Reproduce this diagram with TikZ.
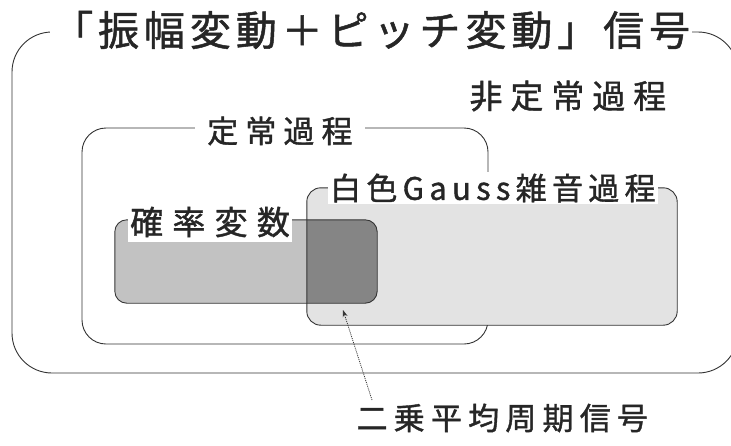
\documentclass[tikz,border=0pt]{standalone}
\usepackage{fontspec}
\newfontfamily\jp[FakeBold=1.2]{Noto Sans CJK JP}
\usetikzlibrary{arrows.meta}
\tikzset{
  frame/.style={draw=black!80, line width=0.9pt},
  lbl/.style={inner sep=2pt, fill=white, text=black!85},
  jpfont/.style 2 args={font={\jp\fontsize{#1}{#1}\selectfont\addfontfeature{LetterSpace=#2}}}
}
\begin{document}
\begin{tikzpicture}[x=1pt,y=-1pt]
\useasboundingbox (0,0) rectangle (731,445);
\clip (0,0) rectangle (731,445);
% outer box
\node[frame, rounded corners=40pt, minimum width=726pt, minimum height=341pt, inner sep=0pt] (outer) at (375,202.5) {};
% stationary box
\node[frame, rounded corners=24pt, minimum width=406pt, minimum height=216pt, inner sep=0pt] (stat) at (285,236) {};
% gauss box fill
\node[fill=black!11, rounded corners=14pt, minimum width=370pt, minimum height=137pt, inner sep=0pt] (gauss) at (492,256.5) {};
% random variable fill
\node[fill=black!24, rounded corners=12pt, minimum width=262pt, minimum height=83pt, inner sep=0pt] (rv) at (246,261.5) {};
% overlap
\begin{scope}
  \clip[rounded corners=14pt] (gauss.north west) rectangle (gauss.south east);
  \fill[black!48, rounded corners=12pt] (rv.north west) rectangle (rv.south east);
\end{scope}
% outlines
\draw[frame, rounded corners=14pt] (gauss.north west) rectangle (gauss.south east);
\draw[frame, rounded corners=12pt] (rv.north west) rectangle (rv.south east);
% labels
\node[lbl, jpfont={41}{12}, anchor=west] (title) at (50,30) {「振幅変動＋ピッチ変動」信号};
\node[jpfont={33}{24}, anchor=west, text=black!85] (nonstat) at (466,96) {非定常過程};
\node[lbl, jpfont={31}{23}, anchor=west, inner xsep=12pt] (statlbl) at (195,131) {定常過程};
\node[lbl, jpfont={31}{17}, anchor=west] (gausslbl) at (328,188) {白色Gauss雑音過程};
\node[lbl, jpfont={33}{28}, anchor=west, inner ysep=5pt] (rvlbl) at (128,222) {確率変数};
\node[jpfont={31}{20}, anchor=west, text=black!85] (msp) at (353,418) {二乗平均周期信号};
% arrow
\coordinate (tip) at (343,310);
\coordinate (tail) at (372,400);
\draw[black!80, line width=0.8pt, dash pattern=on 1pt off 1pt, -{Stealth[length=7pt,width=5pt]}] (tail) -- (tip);
\end{tikzpicture}
\end{document}
